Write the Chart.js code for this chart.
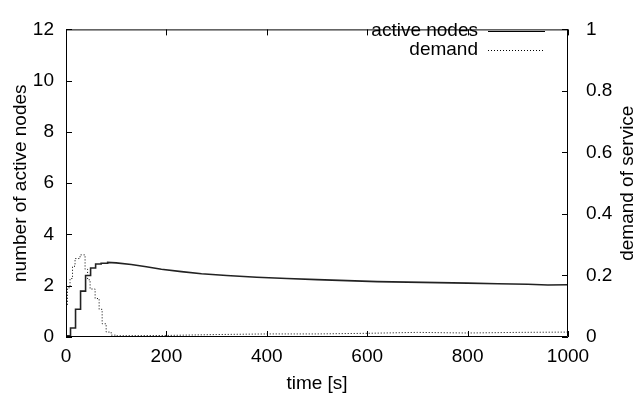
<!DOCTYPE html>
<html><head><meta charset="utf-8">
<script src="https://cdn.jsdelivr.net/npm/chart.js@4/dist/chart.umd.min.js"></script>
<style>html,body{margin:0;padding:0;background:#fff}#wrap{width:638px;height:403px}</style>
</head><body><div id="wrap"><canvas id="c" width="638" height="403"></canvas></div>
<script>
// early part is a step function (held until next time), later part is smooth
const nodeStepTimes = [0, 9, 19, 29, 39, 49, 59, 70];
const nodeStepValues = [0.05, 0.35, 1.08, 1.79, 2.4, 2.69, 2.85, 2.88];
const nodeTimes = [83, 100, 130, 160, 190, 230, 270, 320, 380, 440, 500, 560, 620, 680, 740, 800, 860, 920, 960, 1000];
const nodeValues = [2.91, 2.89, 2.83, 2.74, 2.64, 2.55, 2.47, 2.4, 2.33, 2.28, 2.24, 2.2, 2.16, 2.14, 2.12, 2.1, 2.08, 2.06, 2.03, 2.04];
const demandStepTimes = [0, 3, 8, 13, 18, 28, 38, 43, 48, 58, 66, 72, 80, 90];
const demandStepValues = [0.1, 0.16, 0.19, 0.23, 0.255, 0.267, 0.22, 0.186, 0.156, 0.125, 0.09, 0.043, 0.016, 0.006];
const demandTimes = [100, 200, 300, 400, 500, 600, 700, 800, 900, 1000];
const demandValues = [0.004, 0.005, 0.008, 0.01, 0.01, 0.012, 0.015, 0.013, 0.015, 0.016];
const xTicks = [0, 200, 400, 600, 800, 1000];
const yTicks = [0, 2, 4, 6, 8, 10, 12];
const y2Ticks = [0, 0.2, 0.4, 0.6, 0.8, 1];
const seriesNames = ['active nodes', 'demand'];
const FONT = 'Liberation Sans';
const FS = 19;

function buildSeries(stepT, stepV, t, v) {
  const out = [];
  stepV.forEach((val, i) => {
    const end = i + 1 < stepT.length ? stepT[i + 1] : t[0];
    out.push({x: stepT[i], y: val});
    out.push({x: end, y: val});
  });
  t.forEach((x, i) => out.push({x, y: v[i]}));
  return out;
}

const frame = {
  id: 'frame',
  afterDatasetsDraw(chart) {
    const {ctx, chartArea: a, scales} = chart;
    ctx.save();
    ctx.strokeStyle = '#000';
    ctx.lineWidth = 1;
    ctx.beginPath();
    ctx.rect(a.left + 0.5, a.top + 0.5, a.right - a.left - 1, a.bottom - a.top - 1);
    const L = 6;
    xTicks.forEach(v => {
      const px = Math.round(scales.x.getPixelForValue(v)) + 0.5;
      ctx.moveTo(px, a.bottom); ctx.lineTo(px, a.bottom - L);
      ctx.moveTo(px, a.top); ctx.lineTo(px, a.top + L);
    });
    yTicks.forEach(v => {
      const py = Math.round(scales.y.getPixelForValue(v)) + 0.5;
      ctx.moveTo(a.left, py); ctx.lineTo(a.left + L, py);
    });
    y2Ticks.forEach(v => {
      const py = Math.round(scales.y2.getPixelForValue(v)) + 0.5;
      ctx.moveTo(a.right, py); ctx.lineTo(a.right - L, py);
    });
    ctx.stroke();
    ctx.font = FS + 'px "' + FONT + '"';
    ctx.fillStyle = '#000';
    // right axis title, reading bottom to top
    ctx.save();
    ctx.translate(628, (a.top + a.bottom) / 2);
    ctx.rotate(-Math.PI / 2);
    ctx.textAlign = 'center';
    ctx.textBaseline = 'middle';
    ctx.fillText('demand of service', 0, 0);
    ctx.restore();
    // legend
    ctx.textAlign = 'right';
    ctx.textBaseline = 'middle';
    const tx = 478, x1 = 488, x2 = 545;
    const rows = [31, 50];
    ctx.fillText(seriesNames[0], tx, rows[0]);
    ctx.fillText(seriesNames[1], tx, rows[1]);
    ctx.lineWidth = 1.2;
    ctx.beginPath(); ctx.moveTo(x1, rows[0] + 0.5); ctx.lineTo(x2, rows[0] + 0.5); ctx.stroke();
    ctx.setLineDash([1, 2]);
    ctx.lineWidth = 1;
    ctx.beginPath(); ctx.moveTo(x1, rows[1] + 0.5); ctx.lineTo(x2, rows[1] + 0.5); ctx.stroke();
    ctx.restore();
  }
};

new Chart(document.getElementById('c'), {
  type: 'line',
  data: {
    datasets: [
      {label: seriesNames[0], data: buildSeries(nodeStepTimes, nodeStepValues, nodeTimes, nodeValues), yAxisID: 'y', borderColor: '#222', borderWidth: 1.6, pointRadius: 0, tension: 0, fill: false},
      {label: seriesNames[1], data: buildSeries(demandStepTimes, demandStepValues, demandTimes, demandValues), yAxisID: 'y2', borderColor: '#000', borderWidth: 1, borderDash: [1, 2], pointRadius: 0, tension: 0, fill: false}
    ]
  },
  options: {
    responsive: false,
    animation: false,
    layout: {padding: {top: 15, left: 0, right: 0, bottom: 0}},
    plugins: {legend: {display: false}, tooltip: {enabled: false}},
    scales: {
      x: {
        type: 'linear', min: 0, max: 1000,
        afterBuildTicks: s => { s.ticks = xTicks.map(v => ({value: v})); },
        afterFit: s => { s.height = 66; },
        grid: {display: false, drawTicks: false},
        border: {display: false},
        ticks: {color: '#000', font: {family: FONT, size: FS}, padding: 8, maxRotation: 0, callback: v => String(v)},
        title: {display: true, text: 'time [s]', color: '#000', font: {family: FONT, size: FS}, padding: {top: 0, bottom: 8}}
      },
      y: {
        type: 'linear', position: 'left', min: 0, max: 12,
        afterBuildTicks: s => { s.ticks = yTicks.map(v => ({value: v})); },
        afterFit: s => { s.width = 66; },
        grid: {display: false, drawTicks: false},
        border: {display: false},
        ticks: {color: '#000', font: {family: FONT, size: FS}, padding: 12},
        title: {display: true, text: 'number of active nodes', color: '#000', font: {family: FONT, size: FS}, padding: {top: 9, bottom: 0}}
      },
      y2: {
        type: 'linear', position: 'right', min: 0, max: 1,
        afterBuildTicks: s => { s.ticks = y2Ticks.map(v => ({value: v})); },
        afterFit: s => { s.width = 70; },
        grid: {display: false, drawTicks: false},
        border: {display: false},
        ticks: {color: '#000', font: {family: FONT, size: FS}, padding: 18, callback: v => String(v)}
      }
    }
  },
  plugins: [frame]
});
</script>
</body></html>
